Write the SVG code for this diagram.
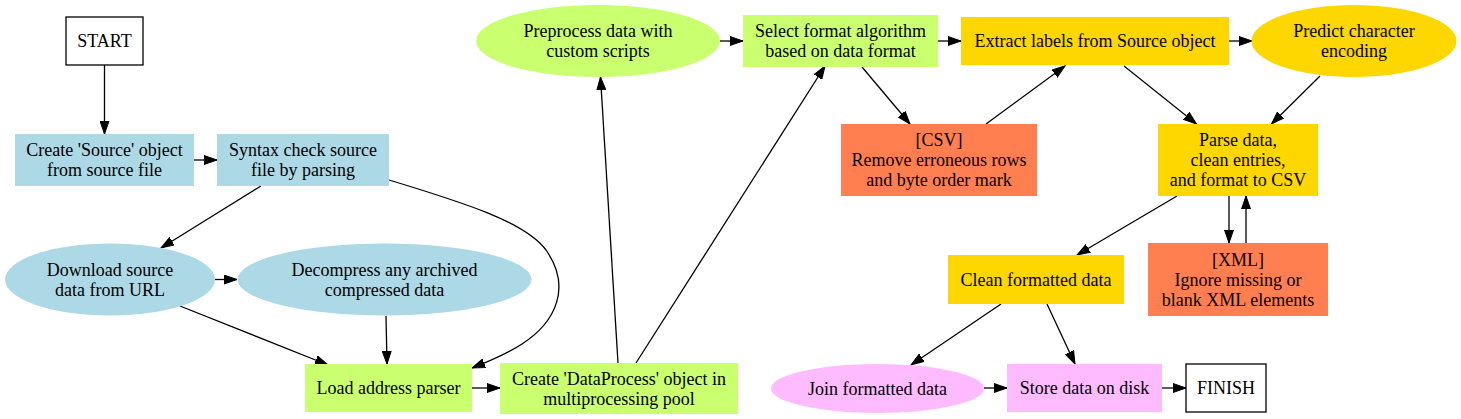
<svg xmlns="http://www.w3.org/2000/svg" width="1461" height="419" viewBox="0 0 1461 419">
<style>
text{font-family:"Liberation Serif","Times New Roman",serif;font-size:18px;fill:#000;text-anchor:middle}
.e{fill:none;stroke:#000;stroke-width:1.3;marker-end:url(#a)}
.w{fill:#fff;stroke:#000;stroke-width:1.3}
.b{fill:#add8e6}
.g{fill:#caff70}
.y{fill:#ffd700}
.c{fill:#ff7f50}
.p{fill:#ffbbff}
</style>
<defs>
<marker id="a" markerWidth="14" markerHeight="10" refX="13" refY="5" orient="auto" markerUnits="userSpaceOnUse">
<path d="M0,0.5 L13,5 L0,9.5 z" fill="#000" stroke="#000" stroke-width="1"/>
</marker>
</defs>
<rect width="1461" height="419" fill="#fff"/>
<g id="edges">
<path class="e" d="M104.5,65 L104.5,134"/>
<path class="e" d="M194,160 L217,160"/>
<path class="e" d="M261,186 L161,248"/>
<path class="e" d="M389,180 C465,203 525,222 546,250 C572,287 556,322 522,344 C505,355 490,361 472,368"/>
<path class="e" d="M215,279.5 L237,279.5"/>
<path class="e" d="M180,306 L328,365"/>
<path class="e" d="M386,316 L387,364"/>
<path class="e" d="M472,388 L500,388"/>
<path class="e" d="M618,363 L600.5,77"/>
<path class="e" d="M636,363 L825,66"/>
<path class="e" d="M720,41 L743,41"/>
<path class="e" d="M938,41 L961,41"/>
<path class="e" d="M862,67 L910,124"/>
<path class="e" d="M986,124 L1065,66"/>
<path class="e" d="M1229,41 L1252,41"/>
<path class="e" d="M1124,66 L1196.5,124"/>
<path class="e" d="M1320,76 L1271.5,124"/>
<path class="e" d="M1177,196 L1077,255"/>
<path class="e" d="M1229,196 L1229,243"/>
<path class="e" d="M1246,243 L1246,196"/>
<path class="e" d="M1001,304 L911,365"/>
<path class="e" d="M1047,304 L1075,364"/>
<path class="e" d="M984,388 L1007,388"/>
<path class="e" d="M1162,388 L1186,388"/>
</g>
<g id="start"><rect class="w" x="66" y="17" width="77" height="48"/><text x="104.5" y="47">START</text></g>
<g id="create_source"><rect class="b" x="15" y="134" width="179" height="52"/><text x="104.5" y="156">Create 'Source' object</text><text x="104.5" y="176">from source file</text></g>
<g id="syntax_check"><rect class="b" x="217" y="134" width="172" height="52"/><text x="303" y="156">Syntax check source</text><text x="303" y="176">file by parsing</text></g>
<g id="download"><ellipse class="b" cx="110" cy="279.5" rx="105" ry="36"/><text x="110" y="275.5">Download source</text><text x="110" y="295.5">data from URL</text></g>
<g id="decompress"><ellipse class="b" cx="384.5" cy="279.5" rx="147" ry="36"/><text x="384.5" y="275.5">Decompress any archived</text><text x="384.5" y="295.5">compressed data</text></g>
<g id="load_parser"><rect class="g" x="305" y="364" width="167" height="48"/><text x="388.5" y="394">Load address parser</text></g>
<g id="create_dataprocess"><rect class="g" x="500" y="363" width="238" height="51"/><text x="619" y="384.5">Create 'DataProcess' object in</text><text x="619" y="404.5">multiprocessing pool</text></g>
<g id="preprocess"><ellipse class="g" cx="598" cy="41" rx="122" ry="36"/><text x="598" y="37">Preprocess data with</text><text x="598" y="57">custom scripts</text></g>
<g id="select_format"><rect class="g" x="743" y="15" width="195" height="52"/><text x="840.5" y="37">Select format algorithm</text><text x="840.5" y="57">based on data format</text></g>
<g id="extract_labels"><rect class="y" x="961" y="17" width="268" height="48"/><text x="1095" y="47">Extract labels from Source object</text></g>
<g id="predict_encoding"><ellipse class="y" cx="1354" cy="41" rx="102.5" ry="36"/><text x="1354" y="37">Predict character</text><text x="1354" y="57">encoding</text></g>
<g id="csv"><rect class="c" x="841" y="124" width="196" height="72"/><text x="939" y="146">[CSV]</text><text x="939" y="166">Remove erroneous rows</text><text x="939" y="186">and byte order mark</text></g>
<g id="parse_data"><rect class="y" x="1158" y="124" width="160" height="72"/><text x="1238" y="146">Parse data,</text><text x="1238" y="166">clean entries,</text><text x="1238" y="186">and format to CSV</text></g>
<g id="clean_formatted"><rect class="y" x="948" y="255" width="176" height="49"/><text x="1036" y="285.5">Clean formatted data</text></g>
<g id="xml"><rect class="c" x="1148" y="243" width="180" height="73"/><text x="1238" y="265.5">[XML]</text><text x="1238" y="285.5">Ignore missing or</text><text x="1238" y="305.5">blank XML elements</text></g>
<g id="join_formatted"><ellipse class="p" cx="877.5" cy="388.5" rx="106.5" ry="24.5"/><text x="877.5" y="394.5">Join formatted data</text></g>
<g id="store_data"><rect class="p" x="1007" y="364" width="155" height="48"/><text x="1084.5" y="394">Store data on disk</text></g>
<g id="finish"><rect class="w" x="1186" y="364" width="80" height="48"/><text x="1226" y="394">FINISH</text></g>
</svg>
